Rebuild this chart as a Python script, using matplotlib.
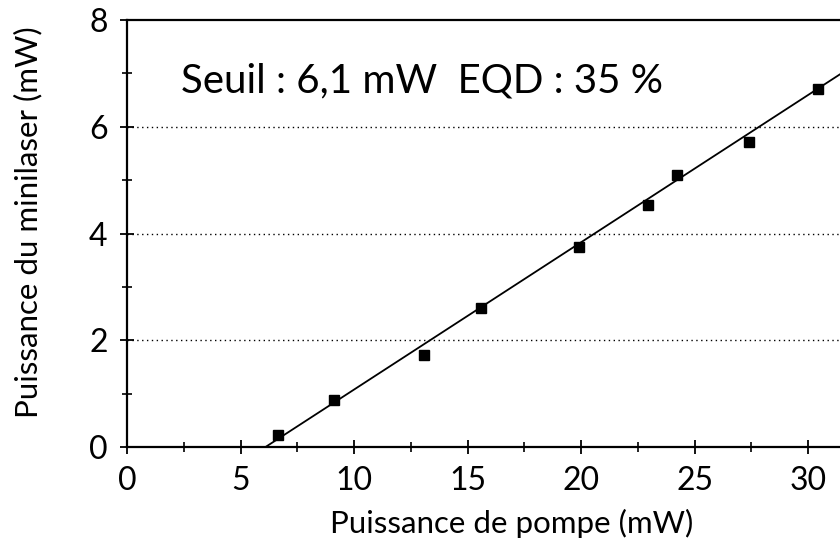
import numpy as np
import matplotlib.pyplot as plt
from matplotlib.ticker import MultipleLocator

# measured points (pump power, minilaser power)
pump_mw = [6.65, 9.1, 13.1, 15.6, 19.9, 22.95, 24.2, 27.4, 30.45]
laser_mw = [0.22, 0.88, 1.72, 2.6, 3.75, 4.53, 5.09, 5.71, 6.70]

# linear fit: threshold and slope
threshold = 6.1
slope = 0.276
x_end = 31.4

xticks = [0, 5, 10, 15, 20, 25, 30]
yticks = [0, 2, 4, 6, 8]

plt.rcParams['font.family'] = ['Lato', 'DejaVu Sans']

fig = plt.figure(figsize=(8.4, 5.51), dpi=100)
ax = fig.add_axes([127 / 840, 104 / 551, 713 / 840, 427 / 551])

for y in [2, 4, 6]:
    ax.axhline(y, color='black', linestyle=(0, (1, 2.5)), linewidth=1.0, zorder=1)

fit_x = np.array([threshold, x_end])
ax.plot(fit_x, slope * (fit_x - threshold), color='black', linewidth=1.3, zorder=2)
ax.plot(pump_mw, laser_mw, linestyle='none', marker='s', markersize=7.5,
        color='black', zorder=3)

ax.set_xlim(0, x_end)
ax.set_ylim(0, 8)
ax.set_xticks(xticks)
ax.set_yticks(yticks)
ax.xaxis.set_minor_locator(MultipleLocator(2.5))
ax.yaxis.set_minor_locator(MultipleLocator(1))
ax.tick_params(which='major', direction='inout', length=10, width=1.3, labelsize=23, pad=9)
ax.tick_params(which='minor', direction='inout', length=7, width=1.2)

ax.spines['right'].set_visible(False)
for side in ['left', 'bottom', 'top']:
    ax.spines[side].set_linewidth(1.6)

ax.set_xlabel('Puissance de pompe (mW)', fontsize=22.5)
ax.set_ylabel('Puissance du minilaser (mW)', fontsize=22.5)
ax.xaxis.set_label_coords(0.54, -0.145)
ax.yaxis.set_label_coords(-0.118, 0.527)

ax.text(2.4, 6.85, 'Seuil : 6,1 mW  EQD : 35 %', fontsize=29, va='center', ha='left')

fig.savefig('out.png', dpi=100)
